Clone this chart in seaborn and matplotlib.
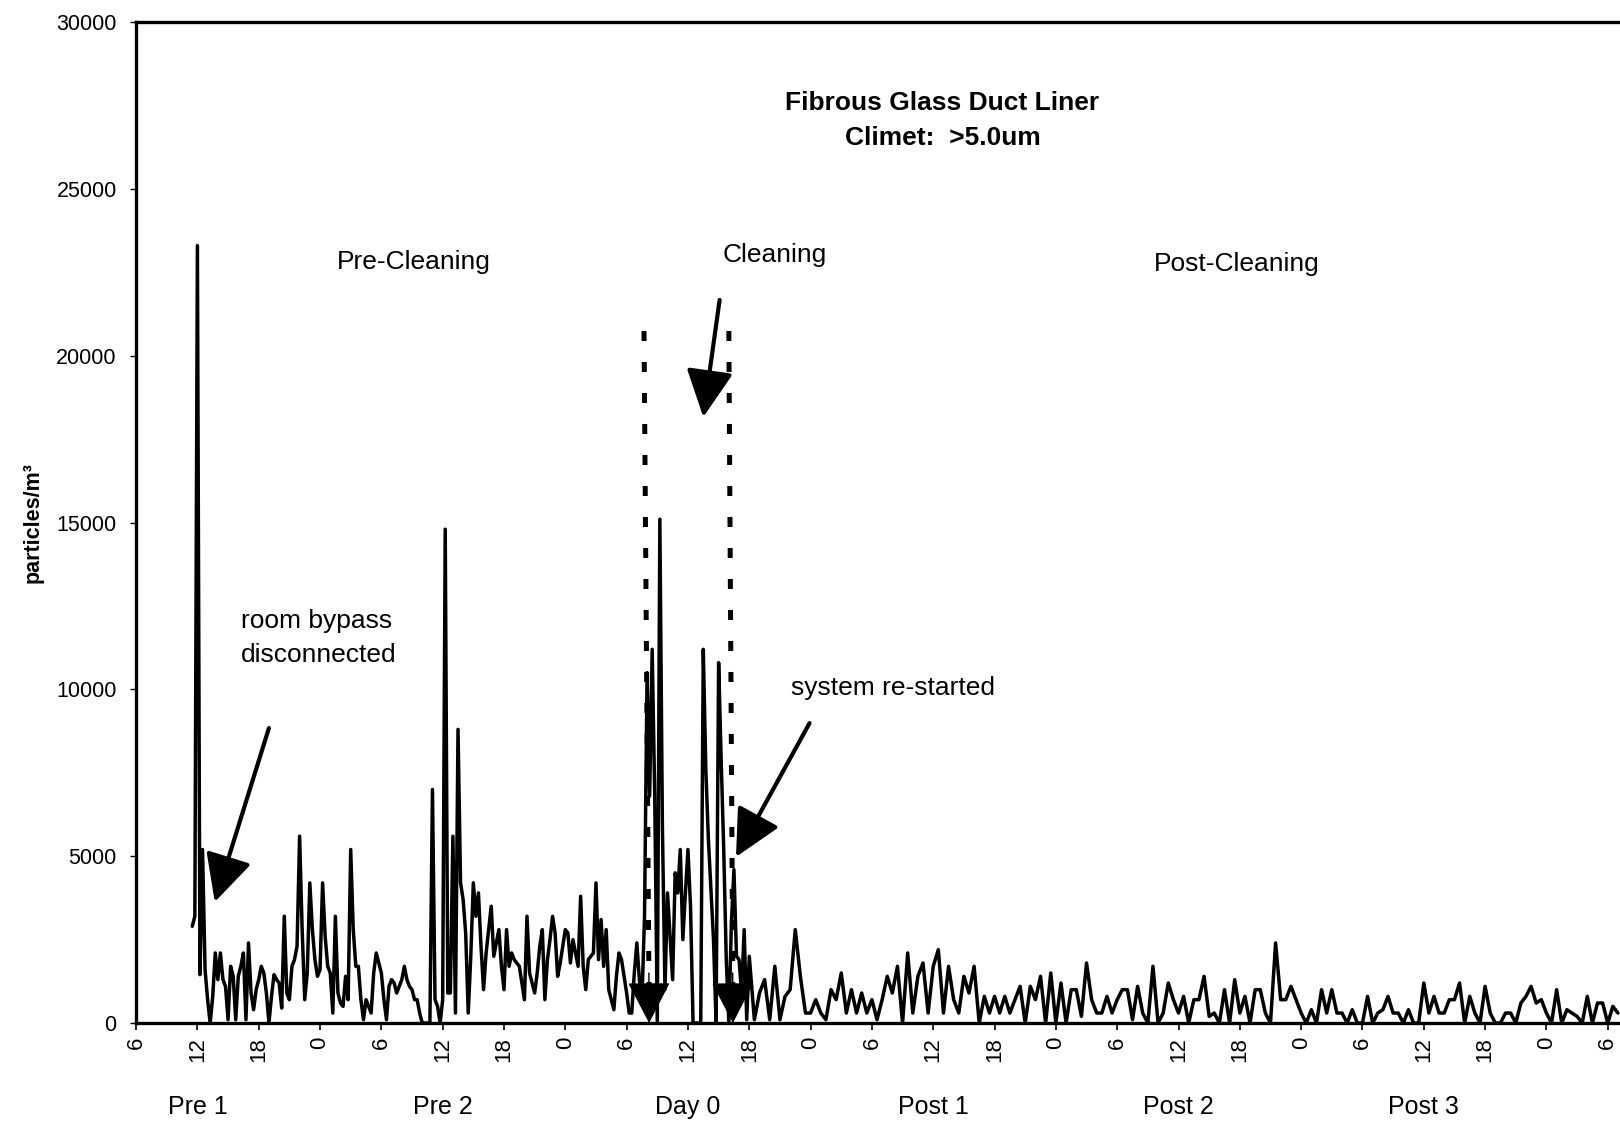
import numpy as np
import pandas as pd
import matplotlib
matplotlib.use("Agg")
import matplotlib.pyplot as plt
import matplotlib.transforms as mtransforms
import seaborn as sns

# Climet >5.0um counts (particles/m3), hours counted from 06:00 on day "Pre 1"
# pre-cleaning + cleaning: one reading every 15 min starting at h=5.5
pre_start = 5.5
pre_step = 0.25
pre_counts = [
    2900, 3200,
    23300, 1450, 5200, 1600,
    700, 0, 800, 2100,
    1300, 2100, 1300, 1100,
    100, 1700, 1400, 100,
    1400, 1700, 2100, 100,
    2400, 900, 400, 1000,
    1300, 1700, 1500, 900,
    0, 800, 1450, 1300,
    1200, 450, 3200, 900,
    700, 1700, 1900, 2300,
    5600, 2800, 700, 1500,
    4200, 2800, 1900, 1400,
    1600, 4200, 2600, 1700,
    1500, 300, 3200, 900,
    600, 500, 1400, 700,
    5200, 2800, 1700, 1700,
    700, 100, 700, 500,
    300, 1500, 2100, 1800,
    1500, 700, 100, 1100,
    1300, 1200, 900, 1100,
    1300, 1700, 1300, 1100,
    1000, 700, 700, 300,
    0, 0, 0, 0,
    7000, 700, 500, 0,
    700, 14800, 900, 900,
    5600, 300, 8800, 4200,
    3700, 2700, 300, 2000,
    4200, 3200, 3900, 2300,
    1000, 2100, 2800, 3500,
    2000, 2400, 2800, 1700,
    1000, 2800, 1700, 2100,
    1900, 1800, 1700, 1200,
    700, 3200, 1500, 1200,
    900, 1500, 2300, 2800,
    700, 1900, 2500, 3200,
    2700, 1400, 1800, 2300,
    2800, 2700, 1800, 2500,
    2100, 1700, 3800, 1700,
    1000, 1900, 2000, 2100,
    4200, 1900, 3100, 1700,
    2800, 1000, 700, 400,
    1400, 2100, 1900, 1400,
    900, 300, 300, 1500,
    2400, 1300, 700, 3200,
    10500, 6800, 11200, 6800,
    0, 15100, 5900, 1000,
    3900, 2600, 1300, 4500,
    3900, 5200, 2500, 3900,
    5200, 3500, 0, 0,
    0, 0, 11200, 7600,
    5500, 4000, 2500, 0,
    10800, 7900, 5200, 1900,
    0, 3000, 4600, 2000,
    1900, 900, 2800, 100,
    2000,
]

# post-cleaning: one reading every 30 min starting at h=60.5
post_start = 60.5
post_step = 0.5
post_counts = [
    100,
    900, 1300, 100, 1700, 100, 800, 1000, 2800, 1400, 300,
    300, 700, 300, 100, 1000, 700, 1500, 300, 1000, 300,
    900, 300, 700, 100, 700, 1400, 900, 1700, 0, 2100,
    300, 1400, 1800, 300, 1700, 2200, 300, 1700, 700, 300,
    1400, 900, 1700, 0, 800, 300, 800, 300, 800, 300,
    700, 1100, 0, 1100, 700, 1400, 0, 1500, 0, 1200,
    0, 1000, 1000, 200, 1800, 700, 300, 300, 800, 300,
    700, 1000, 1000, 100, 1100, 300, 0, 1700, 0, 300,
    1200, 700, 300, 800, 0, 700, 700, 1400, 200, 300,
    0, 1000, 0, 1300, 300, 800, 0, 1000, 1000, 300,
    0, 2400, 700, 700, 1100, 700, 300, 0, 400, 0,
    1000, 300, 1000, 300, 300, 0, 400, 0, 0, 800,
    0, 300, 400, 800, 300, 300, 0, 400, 0, 0,
    1200, 300, 800, 300, 300, 700, 700, 1200, 0, 800,
    300, 0, 1100, 300, 0, 0, 300, 300, 0, 600,
    800, 1100, 600, 700, 300, 0, 1000, 0, 400, 300,
    200, 0, 800, 0, 600, 600, 0, 500,
    300,
]

hour_ticks = list(range(0, 145, 6))
hour_labels = ["6", "12", "18", "0", "6", "12", "18", "0", "6", "12", "18", "0", "6",
               "12", "18", "0", "6", "12", "18", "0", "6", "12", "18", "0", "6"]
day_names = ["Pre 1", "Pre 2", "Day 0", "Post 1", "Post 2", "Post 3"]
day_noon = [6, 30, 54, 78, 102, 126]

t_pre = pre_start + pre_step * np.arange(len(pre_counts))
t_post = post_start + post_step * np.arange(len(post_counts))
df = pd.DataFrame({
    "hour": np.concatenate([t_pre, t_post]),
    "count": np.concatenate([pre_counts, post_counts]),
})

sns.set_style("white")
plt.rcParams["font.family"] = ["Liberation Sans", "DejaVu Sans"]
plt.rcParams["text.color"] = "black"
plt.rcParams["axes.labelcolor"] = "black"
plt.rcParams["xtick.color"] = "black"
plt.rcParams["ytick.color"] = "black"

fig = plt.figure(figsize=(16.2, 11.22), dpi=100)
ax = fig.add_axes([0.084, 0.0882, 0.916, 0.8922])

sns.lineplot(data=df, x="hour", y="count", color="black", lw=2.5,
             estimator=None, ax=ax)

ax.set_xlim(0, 145.2)
ax.set_ylim(0, 30000)
ax.set_xticks(hour_ticks)
ax.set_xticklabels(hour_labels, rotation=90)
ax.set_yticks(range(0, 30001, 5000))
ax.tick_params(axis="x", direction="out", length=5, width=1.2, pad=5,
               labelsize=16, bottom=True, colors="black")
ax.tick_params(axis="y", direction="out", length=4, width=1.0, pad=10,
               labelsize=15.5, left=True, colors="black")
ax.set_xlabel("")
ax.set_ylabel("particles/m³", fontsize=15.5, fontweight="bold", color="black")
ax.yaxis.set_label_coords(-0.062, 0.5)

for side in ["top", "left", "bottom"]:
    ax.spines[side].set_linewidth(2.4)
    ax.spines[side].set_color("black")
ax.spines["right"].set_visible(False)

# day names under the hour ticks
trans = mtransforms.blended_transform_factory(ax.transData, ax.transAxes)
for name, h in zip(day_names, day_noon):
    ax.text(h, -0.084, name, transform=trans, ha="center", va="center", fontsize=18)

# titles and phase labels
ax.text(78.9, 27570, "Fibrous Glass Duct Liner", ha="center", va="center",
        fontsize=19, fontweight="bold")
ax.text(78.9, 26520, "Climet:  >5.0um", ha="center", va="center",
        fontsize=19, fontweight="bold")
ax.text(27.2, 22810, "Pre-Cleaning", ha="center", va="center", fontsize=19)
ax.text(62.5, 23020, "Cleaning", ha="center", va="center", fontsize=19)
ax.text(107.7, 22750, "Post-Cleaning", ha="center", va="center", fontsize=19)
ax.text(10.3, 12050, "room bypass", ha="left", va="center", fontsize=19)
ax.text(10.3, 11030, "disconnected", ha="left", va="center", fontsize=19)
ax.text(64.1, 10040, "system re-started", ha="left", va="center", fontsize=19)

# pointer arrows
big_head = "-|>,head_length=2.9,head_width=1.45"
arrow_kw = dict(arrowstyle=big_head, color="black", lw=3, mutation_scale=10,
                shrinkA=0, shrinkB=0)
ax.annotate("", xy=(7.7, 3630), xytext=(13.0, 8840), arrowprops=arrow_kw)
ax.annotate("", xy=(55.5, 18160), xytext=(57.1, 21670), arrowprops=arrow_kw)
ax.annotate("", xy=(58.7, 4980), xytext=(65.9, 8990), arrowprops=arrow_kw)

# dotted markers for start / end of cleaning
for top_h, tip_h in [(49.7, 50.2), (58.0, 58.4)]:
    ax.plot([top_h, tip_h], [20740, 600], color="black", lw=3.6,
            linestyle=(0, (2, 4.2)), dash_capstyle="butt")
    ax.annotate("", xy=(tip_h, 0), xytext=(tip_h - 0.02, 1500),
                arrowprops=dict(arrowstyle="-|>,head_length=2.7,head_width=1.4",
                                color="black", lw=1, mutation_scale=10,
                                shrinkA=0, shrinkB=0))

fig.savefig("out.png", dpi=100)
